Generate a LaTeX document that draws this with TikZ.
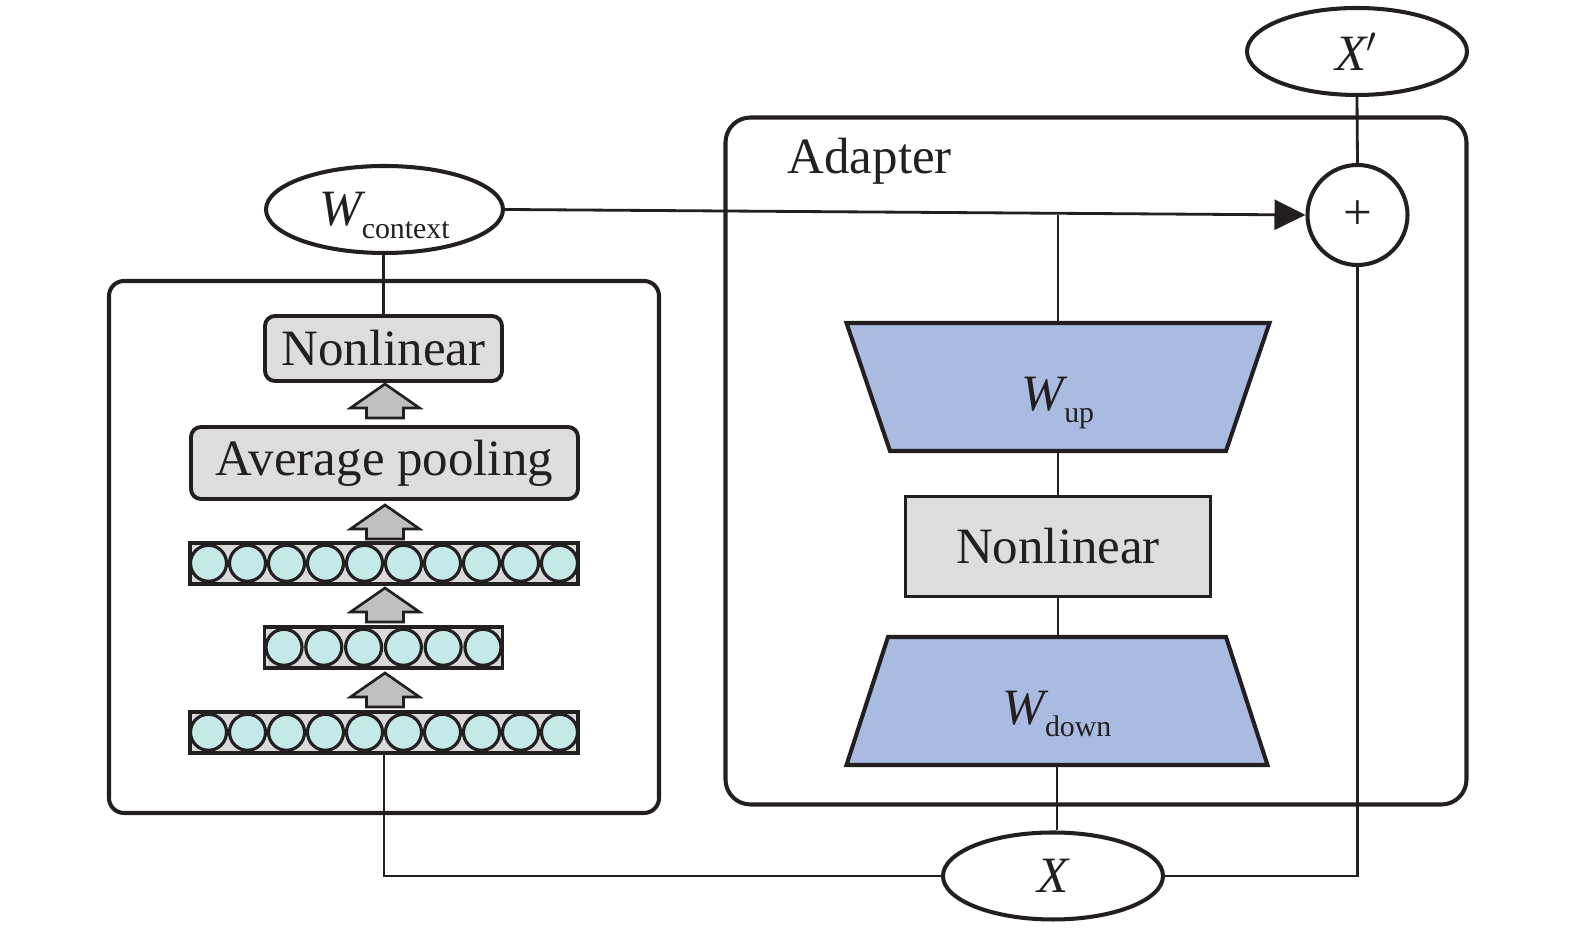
\documentclass[tikz,border=0pt]{standalone}
\usepackage{fontspec}
\setmainfont{Liberation Serif}
\usetikzlibrary{positioning,arrows.meta,shapes.geometric}

\definecolor{ink}{HTML}{231F20}
\definecolor{trapfill}{HTML}{A9BBE0}
\definecolor{boxgray}{HTML}{DDDDDD}
\definecolor{rowgray}{HTML}{D9D9D9}
\definecolor{beadfill}{HTML}{C4E9E7}
\definecolor{arrgray}{HTML}{BFBFBF}

% W with an upright, lowered index
\newcommand{\wsub}[1]{{\itshape W}\raisebox{-0.24em}[0pt][0pt]{\fontsize{8.5}{9}\selectfont #1}}

\begin{document}
\begin{tikzpicture}[
  font=\fontsize{14.5}{17}\selectfont, text=ink,
  groupbox/.style={rectangle, draw=ink, line width=1.15pt, inner sep=0pt},
  ellip/.style={ellipse, draw=ink, line width=1.15pt, fill=white, inner sep=0pt,
                minimum width=2.2cm, minimum height=0.87cm},
  plusnode/.style={circle, draw=ink, line width=1.15pt, fill=white, inner sep=0pt,
                   minimum size=1.0cm},
  trapbox/.style={draw=ink, line width=1.15pt, fill=trapfill, line join=miter},
  traplabel/.style={rectangle, inner sep=0pt, minimum width=3.3cm,
                    minimum height=1.28cm, text height=0.47cm},
  midbox/.style={rectangle, draw=ink, line width=1.0pt, fill=boxgray,
                 minimum width=3.05cm, minimum height=1.0cm},
  opbox/.style={rectangle, rounded corners=0.1cm, draw=ink, line width=1.1pt,
                fill=boxgray, inner sep=0pt, minimum height=0.65cm},
  row/.style={rectangle, draw=ink, line width=1.1pt, fill=rowgray, inner sep=0pt,
              minimum height=0.41cm},
  bead/.style={draw=ink, line width=0.9pt, fill=beadfill},
  uparr/.style={draw=ink, line width=0.75pt, fill=arrgray, line join=miter},
  line/.style={draw=ink, line width=0.8pt},
  arr/.style={line, -{Triangle[length=3.1mm, width=3mm]}}
]
\useasboundingbox (0,0) rectangle (15.75,-9.28);

% group boxes
\node[groupbox, rounded corners=0.15cm, minimum width=5.5cm, minimum height=5.32cm]
  (encbox) at (3.84,-5.47) {};
\node[groupbox, rounded corners=0.25cm, minimum width=7.41cm, minimum height=6.87cm]
  (adapterbox) at (10.96,-4.61) {};
\node[anchor=base west, inner sep=0pt] (adlabel) at (7.87,-1.74) {Adapter};

% inputs and outputs
\node[ellip] (xout) at (13.57,-0.515) {{\itshape X}$'$};
\node[ellip, minimum width=2.37cm] (ctx) at (3.845,-2.095) {\wsub{context}};
\node[ellip] (xin) at (10.53,-8.76) {{\itshape X}};
\node[plusnode] (plus) at (13.575,-2.15) {+};

% adapter column
\draw[trapbox] (8.465,-3.23) -- (12.695,-3.23) -- (12.26,-4.51) -- (8.9,-4.51) -- cycle;
\node[traplabel] (wup) at (10.58,-3.87) {\wsub{up}};
\node[midbox] (nlr) at (10.58,-5.465) {Nonlinear};
\draw[trapbox] (8.88,-6.37) -- (12.26,-6.37) -- (12.675,-7.65) -- (8.465,-7.65) -- cycle;
\node[traplabel] (wdown) at (10.57,-7.01) {\wsub{down}};

% context encoder
\node[opbox, minimum width=2.37cm] (lnl) at (3.835,-3.485) {Nonlinear};
\node[opbox, minimum width=3.87cm, minimum height=0.72cm] (pool) at (3.845,-4.63) {Average pooling};
\node[row, minimum width=3.88cm] (layerA) at (3.84,-5.633) {};
\node[row, minimum width=2.38cm] (layerB) at (3.835,-6.473) {};
\node[row, minimum width=3.88cm] (layerC) at (3.84,-7.323) {};

\foreach \k in {0,...,9} {
  \draw[bead] (2.085+0.39*\k,-5.633) circle (0.18);
  \draw[bead] (2.085+0.39*\k,-7.323) circle (0.18);
}
\foreach \k in {0,...,5}
  \draw[bead] (2.84+0.398*\k,-6.473) circle (0.18);

\foreach \t in {-3.84,-5.05,-5.88,-6.73}
  \draw[uparr] (3.85,\t) -- ++(0.345,-0.24) -- ++(-0.16,0) -- ++(0,-0.10)
    -- ++(-0.37,0) -- ++(0,0.10) -- ++(-0.16,0) -- cycle;

% connectors
\draw[line] (lnl.north) -- (lnl.north |- ctx.south);
\draw[arr] (ctx.east) -- (plus.west);
\draw[line] (wup.north) -- (wup.north |- plus.west);
\draw[line] (wup.south) -- (nlr.north);
\draw[line] (nlr.south) -- (nlr.south |- wdown.north);
\draw[line] (wdown.south) -- (wdown.south |- xin.north);
\draw[line] (plus.north) -- (xout.south);
\draw[line] (xin.east) -| (plus.south);
\draw[line] (xin.west) -| (layerC.south);
\end{tikzpicture}
\end{document}
